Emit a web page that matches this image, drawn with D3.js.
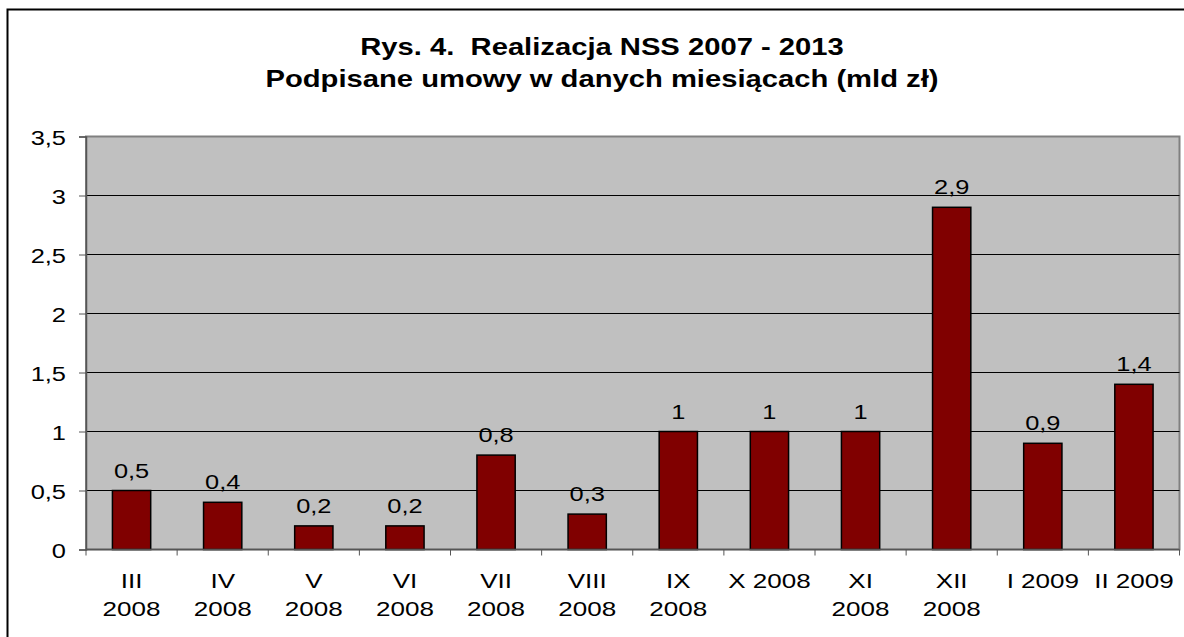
<!DOCTYPE html>
<html>
<head>
<meta charset="utf-8">
<script src="https://cdn.jsdelivr.net/npm/d3@7"></script>
<style>
  body { margin: 0; background: #fff; }
  svg { display: block; font-family: "Liberation Sans", Arial, sans-serif; }
</style>
</head>
<body>
<svg id="canvas" width="1184" height="637"></svg>
<script>
// month labels, "\n" marks where the label wraps
const categories = ['III\n2008', 'IV\n2008', 'V\n2008', 'VI\n2008', 'VII\n2008', 'VIII\n2008',
                    'IX\n2008', 'X 2008', 'XI\n2008', 'XII\n2008', 'I 2009', 'II 2009']
const values = [0.5, 0.4, 0.2, 0.2, 0.8, 0.3, 1, 1, 1, 2.9, 0.9, 1.4]
const yTicks = [0, 0.5, 1, 1.5, 2, 2.5, 3, 3.5]
const titleLines = ['Rys. 4.  Realizacja NSS 2007 - 2013', 'Podpisane umowy w danych miesiącach (mld zł)']

let svg = d3.select('#canvas')
let fmt = (v) => String(v).replace('.', ',')

// the original picture is stretched sideways, so text is widened too
let stretch = 1.27
let place = (px, py) => 'translate(' + px + ',' + py + ') scale(' + stretch + ',1)'

let plotLeft = 86, plotRight = 1179.5, plotTop = 136.5, plotBottom = 549.5

// outer chart frame (runs off the right and bottom of the window)
svg.append('rect')
   .attr('x', 7.5).attr('y', 9.5)
   .attr('width', 1200).attr('height', 700)
   .attr('fill', '#fff')
   .attr('stroke', '#000')
   .attr('stroke-width', 2)

svg.append('g').selectAll('text')
   .data(titleLines)
   .enter()
   .append('text')
   .attr('transform', (d, i) => place(602, 55 + i * 32))
   .attr('text-anchor', 'middle')
   .attr('font-size', 23)
   .attr('font-weight', 'bold')
   .style('white-space', 'pre')
   .text(d => d)

let x = d3.scaleBand().domain(categories).range([plotLeft, plotRight]).paddingInner(0.58).paddingOuter(0.29)
let xCat = d3.scaleBand().domain(categories).range([plotLeft, plotRight])
let y = d3.scaleLinear().domain([0, 3.5]).range([plotBottom, plotTop])

// plot area
svg.append('rect')
   .attr('x', plotLeft).attr('y', plotTop)
   .attr('width', plotRight - plotLeft).attr('height', plotBottom - plotTop)
   .attr('fill', '#c0c0c0')
   .attr('stroke', '#808080')
   .attr('stroke-width', 2)

// gridlines
svg.append('g').selectAll('line')
   .data(yTicks.filter(t => t > 0 && t < 3.5))
   .enter()
   .append('line')
   .attr('x1', plotLeft).attr('x2', plotRight)
   .attr('y1', d => y(d)).attr('y2', d => y(d))
   .attr('stroke', '#000')
   .attr('stroke-width', 1)

// bars
svg.append('g').selectAll('rect')
   .data(values)
   .enter()
   .append('rect')
   .attr('x', (d, i) => x(categories[i]))
   .attr('y', d => y(d))
   .attr('width', x.bandwidth())
   .attr('height', d => y(0) - y(d))
   .attr('fill', '#800000')
   .attr('stroke', '#000')
   .attr('stroke-width', 1.5)

// value labels
svg.append('g').selectAll('text')
   .data(values)
   .enter()
   .append('text')
   .attr('transform', (d, i) => place(x(categories[i]) + x.bandwidth() / 2, y(d) - 13))
   .attr('text-anchor', 'middle')
   .attr('font-size', 20)
   .attr('fill', '#000')
   .text(d => fmt(d))

// y axis
let yAxis = svg.append('g')
   .attr('transform', 'translate(' + plotLeft + ',0)')
   .call(d3.axisLeft(y).tickValues(yTicks).tickSize(7).tickFormat(fmt))
yAxis.select('.domain').attr('stroke', '#555').attr('stroke-width', 1.5)
yAxis.selectAll('.tick line').attr('stroke', '#555')
yAxis.selectAll('.tick text')
     .attr('x', null).attr('dy', null)
     .attr('transform', place(-20, 7.5))
     .attr('font-size', 20)
     .attr('font-family', '"Liberation Sans", Arial, sans-serif')
     .attr('fill', '#000')

// x axis: ticks on category boundaries
let xAxis = svg.append('g')
   .attr('transform', 'translate(0,' + plotBottom + ')')
xAxis.append('line')
   .attr('x1', plotLeft).attr('x2', plotRight)
   .attr('stroke', '#555').attr('stroke-width', 1.5)
xAxis.selectAll('.bound')
   .data(categories.map(c => xCat(c)).concat([plotRight]))
   .enter()
   .append('line')
   .attr('class', 'bound')
   .attr('x1', d => d).attr('x2', d => d)
   .attr('y1', 0).attr('y2', 6)
   .attr('stroke', '#555')

let labels = xAxis.selectAll('.lab')
   .data(categories)
   .enter()
   .append('text')
   .attr('class', 'lab')
   .attr('transform', c => place(xCat(c) + xCat.bandwidth() / 2, 0))
   .attr('text-anchor', 'middle')
   .attr('font-size', 20.5)
   .attr('fill', '#000')
labels.each(function (c) {
   let parts = c.split('\n')
   d3.select(this).selectAll('tspan')
     .data(parts)
     .enter()
     .append('tspan')
     .attr('x', 0)
     .attr('y', (d, i) => 39 + i * 28)
     .text(d => d)
})
</script>
</body>
</html>
